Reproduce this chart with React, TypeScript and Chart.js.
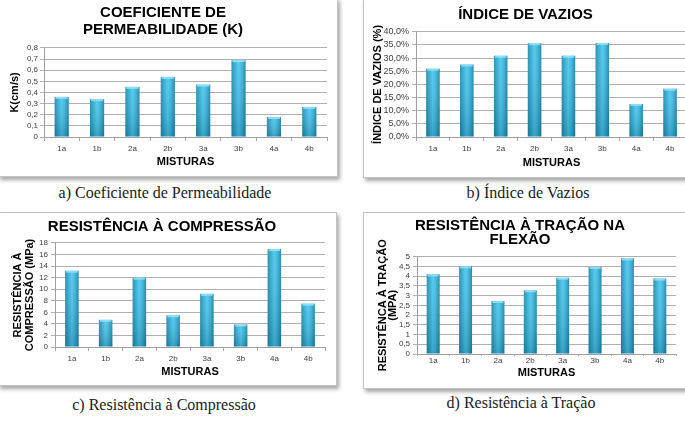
import React, { useEffect, useRef } from "react";
import { Chart, registerables } from "chart.js";

Chart.register(...registerables);
Chart.defaults.font.family = "'Liberation Sans', Arial, sans-serif";

const categories = ["1a", "1b", "2a", "2b", "3a", "3b", "4a", "4b"];
const permeability = [0.36, 0.34, 0.45, 0.54, 0.47, 0.69, 0.18, 0.27];
const voids = [26.0, 27.6, 30.9, 35.7, 30.9, 35.8, 12.6, 18.4];
const compression = [13.2, 4.7, 12.0, 5.5, 9.2, 3.9, 16.95, 7.5];
const tension = [4.09, 4.5, 2.72, 3.27, 3.92, 4.47, 4.91, 3.87];

const FONT = "'Liberation Sans', Arial, sans-serif";

const comma = (v: number, d: number) => v.toFixed(d).replace(".", ",");

const barFill = (ctx: any) => {
  const chart = ctx.chart;
  const area = chart.chartArea;
  if (!area || ctx.type !== "data") return "#33b0d8";
  const xs = chart.scales.x;
  const cx = xs.getPixelForValue(ctx.dataIndex);
  const w = ((area.right - area.left) / categories.length) * 0.4;
  const g = chart.ctx.createLinearGradient(cx - w / 2, 0, cx + w / 2, 0);
  g.addColorStop(0, "#1f88ad");
  g.addColorStop(0.25, "#30acd4");
  g.addColorStop(0.5, "#4ac8ec");
  g.addColorStop(0.75, "#33b0d8");
  g.addColorStop(1, "#1c80a4");
  return g;
};

const barShade = {
  id: "barShade",
  afterDatasetsDraw(chart: any) {
    const c = chart.ctx;
    const meta = chart.getDatasetMeta(0);
    meta.data.forEach((bar: any) => {
      const { x, y, base, width } = bar.getProps(["x", "y", "base", "width"], true);
      const g = c.createLinearGradient(0, y, 0, base);
      g.addColorStop(0, "rgba(255,255,255,0.08)");
      g.addColorStop(1, "rgba(0,40,60,0.22)");
      c.save();
      c.fillStyle = g;
      c.fillRect(x - width / 2, y, width, base - y);
      c.fillStyle = "rgba(150,228,248,0.85)";
      c.fillRect(x - width / 2 + 1, y, width - 2, 2);
      c.restore();
    });
  },
};

interface Panel {
  values: number[];
  title: string | string[];
  titleLH: number;
  titleTop: number;
  titleBottom: number;
  yTitle: string | string[];
  yTitleLH: number;
  yTitleTop: number;
  yWidth: number;
  yTickSize: number;
  yTickPad: number;
  max: number;
  step: number;
  fmt: (v: number) => string;
  xHeight: number;
  xTickLen: number;
  xTickPad: number;
  xTitleBottom: number;
  padRight: number;
}

function makeConfig(p: Panel): any {
  return {
    type: "bar",
    data: {
      labels: categories,
      datasets: [
        {
          data: p.values,
          backgroundColor: barFill,
          borderWidth: 0,
          barPercentage: 0.4,
          categoryPercentage: 1,
        },
      ],
    },
    options: {
      animation: false,
      responsive: false,
      devicePixelRatio: 1,
      layout: { padding: { left: 0, right: p.padRight, top: 0, bottom: 0 } },
      plugins: {
        legend: { display: false },
        tooltip: { enabled: false },
        title: {
          display: true,
          text: p.title,
          color: "#000",
          font: { family: FONT, size: 15, weight: "bold", lineHeight: p.titleLH },
          padding: { top: p.titleTop, bottom: p.titleBottom },
        },
      },
      scales: {
        x: {
          grid: {
            display: true,
            drawOnChartArea: false,
            drawTicks: true,
            tickLength: p.xTickLen,
            color: "#a6a6a6",
          },
          border: { display: true, color: "#a0a0a0" },
          ticks: { font: { family: FONT, size: 8 }, color: "#404040", padding: p.xTickPad, autoSkip: false, maxRotation: 0 },
          title: {
            display: true,
            text: "MISTURAS",
            color: "#000",
            font: { family: FONT, size: 11, weight: "bold", lineHeight: 1.2 },
            padding: { top: 0, bottom: p.xTitleBottom },
          },
          afterFit: (s: any) => {
            s.height = p.xHeight;
          },
        },
        y: {
          min: 0,
          max: p.max,
          ticks: {
            stepSize: p.step,
            autoSkip: false,
            callback: (v: any) => p.fmt(Number(v)),
            font: { family: FONT, size: p.yTickSize },
            color: "#404040",
            padding: p.yTickPad,
          },
          grid: { color: "#b0b0b0", tickLength: 4, drawTicks: true },
          border: { display: true, color: "#a0a0a0" },
          title: {
            display: true,
            text: p.yTitle,
            color: "#000",
            font: { family: FONT, size: 11, weight: "bold", lineHeight: p.yTitleLH },
            padding: { top: p.yTitleTop, bottom: 0 },
          },
          afterFit: (s: any) => {
            s.width = p.yWidth;
          },
        },
      },
    },
    plugins: [barShade],
  };
}

const panelA: Panel = {
  values: permeability,
  title: ["COEFICIENTE DE", "PERMEABILIDADE (K)"],
  titleLH: 1.11,
  titleTop: 5.6,
  titleBottom: 10,
  yTitle: "K(cm/s)",
  yTitleLH: 1.2,
  yTitleTop: 9.4,
  yWidth: 45,
  yTickSize: 8,
  yTickPad: 2,
  max: 0.8,
  step: 0.1,
  fmt: (v) => (Math.abs(v) < 1e-9 ? "0" : comma(v, 1)),
  xHeight: 39,
  xTickLen: 4,
  xTickPad: 3,
  xTitleBottom: 7.4,
  padRight: 10,
};

const panelB: Panel = {
  values: voids,
  title: "ÍNDICE DE VAZIOS",
  titleLH: 1.11,
  titleTop: 7.6,
  titleBottom: 8.6,
  yTitle: "ÍNDICE DE VAZIOS (%)",
  yTitleLH: 1.2,
  yTitleTop: 7.4,
  yWidth: 52,
  yTickSize: 9,
  yTickPad: 3,
  max: 40,
  step: 5,
  fmt: (v) => comma(v, 1) + "%",
  xHeight: 40,
  xTickLen: 4,
  xTickPad: 3,
  xTitleBottom: 7.4,
  padRight: 23,
};

const panelC: Panel = {
  values: compression,
  title: "RESISTÊNCIA À COMPRESSÃO",
  titleLH: 1.11,
  titleTop: 5.3,
  titleBottom: 8,
  yTitle: ["RESISTÊNCIA À", "COMPRESSÃO (MPa)"],
  yTitleLH: 1.09,
  yTitleTop: 13,
  yWidth: 56,
  yTickSize: 8,
  yTickPad: 3,
  max: 18,
  step: 2,
  fmt: (v) => String(Math.round(v)),
  xHeight: 38,
  xTickLen: 4,
  xTickPad: 3,
  xTitleBottom: 6.7,
  padRight: 11,
};

const panelD: Panel = {
  values: tension,
  title: ["RESISTÊNCIA À TRAÇÃO NA", "FLEXÃO"],
  titleLH: 0.9,
  titleTop: 6.2,
  titleBottom: 10.4,
  yTitle: ["RESISTÊNCA À TRAÇÃO", "(MPA)"],
  yTitleLH: 0.91,
  yTitleTop: 14,
  yWidth: 53,
  yTickSize: 8,
  yTickPad: 3,
  max: 5,
  step: 0.5,
  fmt: (v) => (Math.abs(v - Math.round(v)) < 1e-9 ? String(Math.round(v)) : comma(v, 1)),
  xHeight: 34,
  xTickLen: 2,
  xTickPad: 0,
  xTitleBottom: 8.4,
  padRight: 12,
};

function ChartBox(props: { panel: Panel; left: number; top: number; width: number; height: number }) {
  const ref = useRef<HTMLCanvasElement>(null);
  useEffect(() => {
    if (!ref.current) return;
    const chart = new Chart(ref.current, makeConfig(props.panel));
    return () => chart.destroy();
  }, []);
  const cw = props.width - 2;
  const ch = props.height - 2;
  return (
    <div
      style={{
        position: "absolute",
        left: props.left,
        top: props.top,
        width: props.width,
        height: props.height,
        boxSizing: "border-box",
        border: "1px solid #c4c4c4",
        background: "#fff",
        boxShadow: "2px 3px 4px rgba(0,0,0,0.35)",
      }}
    >
      <canvas
        ref={ref}
        width={cw}
        height={ch}
        style={{ position: "absolute", left: 0, top: 0, width: cw, height: ch, display: "block" }}
      />
    </div>
  );
}

function Caption(props: { text: string; cx: number; cy: number }) {
  return (
    <div
      style={{
        position: "absolute",
        left: props.cx - 160,
        top: props.cy - 10,
        width: 320,
        height: 20,
        lineHeight: "20px",
        textAlign: "center",
        fontFamily: "'Liberation Serif', 'Times New Roman', serif",
        fontSize: 16,
        color: "#1a1a1a",
        whiteSpace: "nowrap",
      }}
    >
      {props.text}
    </div>
  );
}

export default function App() {
  return (
    <div
      style={{
        position: "absolute",
        left: 0,
        top: 0,
        width: 685,
        height: 424,
        overflow: "hidden",
        background: "#fff",
      }}
    >
      <ChartBox panel={panelA} left={-2} top={-2} width={340} height={179} />
      <ChartBox panel={panelB} left={363} top={-2} width={348} height={180} />
      <ChartBox panel={panelC} left={-2} top={212} width={339} height={174} />
      <ChartBox panel={panelD} left={363} top={212} width={326} height={177} />
      <Caption text="a) Coeficiente de Permeabilidade" cx={165} cy={193} />
      <Caption text="b) Índice de Vazios" cx={528} cy={193} />
      <Caption text="c) Resistência à Compressão" cx={164} cy={405} />
      <Caption text="d) Resistência à Tração" cx={521} cy={403} />
    </div>
  );
}
